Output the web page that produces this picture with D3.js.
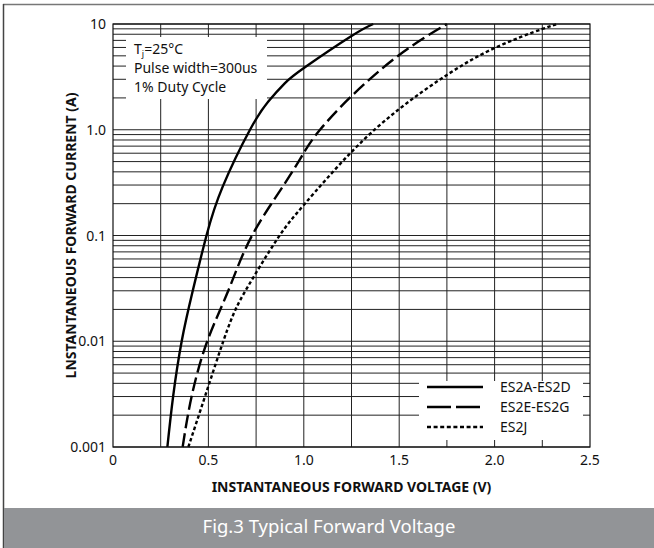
<!DOCTYPE html>
<html>
<head>
<meta http-equiv="Content-type" content="text/html; charset=utf-8">
<title>Fig.3 Typical Forward Voltage</title>
<script src="https://cdn.jsdelivr.net/npm/d3@7"></script>
<style>
  body { margin: 0; background: #fff; }
  svg text { font-family: "Noto Sans", "Open Sans", sans-serif; fill: #111; }
</style>
</head>
<body>
<script type="text/javascript">

// axis ticks
var xTicks = [0, 0.5, 1.0, 1.5, 2.0, 2.5];
var xTickLabels = ["0", "0.5", "1.0", "1.5", "2.0", "2.5"];
var xGrid = [0.25, 0.5, 0.75, 1.0, 1.25, 1.5, 1.75, 2.0, 2.25];
var yTicks = [10, 1, 0.1, 0.01, 0.001];
var yTickLabels = ["10", "1.0", "0.1", "0.01", "0.001"];

// curves (V, A)
var es2aV = [0.285, 0.315, 0.36, 0.418, 0.49, 0.575, 0.718, 0.814, 0.9, 1.006, 1.25, 1.364];
var es2aI = [0.001, 0.003, 0.01, 0.03, 0.1, 0.29, 1.0, 1.85, 2.75, 3.9, 7.7, 10];

var es2eV = [0.365, 0.412, 0.494, 0.604, 0.725, 0.90, 1.006, 1.085, 1.25, 1.5, 1.75];
var es2eI = [0.001, 0.003, 0.01, 0.03, 0.097, 0.31, 0.63, 1.0, 2.08, 5.1, 10];

var es2jV = [0.395, 0.482, 0.578, 0.648, 0.735, 0.87, 1.006, 1.25, 1.5, 1.75, 2.0, 2.25, 2.33];
var es2jI = [0.001, 0.003, 0.01, 0.021, 0.04, 0.098, 0.2, 0.617, 1.57, 3.3, 5.93, 8.97, 10];

var seriesNames = ["ES2A-ES2D", "ES2E-ES2G", "ES2J"];
var dashes = [null, "14,5", "3.5,2.5"];

var W = 654, H = 548;
var pL = 113, pR = 590, pT = 24, pB = 447;

var svg = d3.select("body").append("svg").attr("width", W).attr("height", H);

var x = d3.scaleLinear().domain([0, 2.5]).range([pL, pR]);
var y = d3.scaleLog().domain([0.001, 10]).range([pB, pT]);

// frame of the figure
svg.append("line").attr("x1", 3).attr("x2", W).attr("y1", 4.5).attr("y2", 4.5)
  .attr("stroke", "#777").attr("stroke-width", 1.5);
svg.append("line").attr("x1", 3.5).attr("x2", 3.5).attr("y1", 4).attr("y2", H)
  .attr("stroke", "#444").attr("stroke-width", 1.5);

// log minor grid
var yGrid = [];
[0.001, 0.01, 0.1, 1].forEach(function(d) {
  for (var k = 1; k <= 9; k++) yGrid.push(d * k);
});
yGrid.push(10);

var grid = svg.append("g");
grid.selectAll(".hg").data(yGrid).enter().append("line")
  .attr("x1", pL).attr("x2", pR)
  .attr("y1", function(d) { return y(d); }).attr("y2", function(d) { return y(d); })
  .attr("stroke", "#222").attr("stroke-width", 1);
grid.selectAll(".vg").data(xGrid).enter().append("line")
  .attr("x1", function(d) { return x(d); }).attr("x2", function(d) { return x(d); })
  .attr("y1", pT).attr("y2", pB)
  .attr("stroke", "#222").attr("stroke-width", 1);

// curves
var line = d3.line()
  .x(function(d) { return x(d[0]); })
  .y(function(d) { return y(d[1]); })
  .curve(d3.curveNatural);

var curves = [d3.zip(es2aV, es2aI), d3.zip(es2eV, es2eI), d3.zip(es2jV, es2jI)];
svg.selectAll(".curve").data(curves).enter().append("path")
  .attr("class", "curve")
  .attr("d", line)
  .attr("fill", "none")
  .attr("stroke", "#000")
  .attr("stroke-width", 2.4)
  .attr("stroke-dasharray", function(d, i) { return dashes[i]; });

// plot border
svg.append("rect").attr("x", pL).attr("y", pT)
  .attr("width", pR - pL).attr("height", pB - pT)
  .attr("fill", "none").attr("stroke", "#111").attr("stroke-width", 1.2);

// conditions box
svg.append("rect").attr("x", 126).attr("y", 37).attr("width", 141).attr("height", 62).attr("fill", "#fff");
var cond = svg.append("text").attr("x", 134).attr("y", 54).attr("font-size", 14);
cond.append("tspan").text("T");
cond.append("tspan").attr("font-size", 9).attr("dy", 3).text("j");
cond.append("tspan").attr("dy", -3).text("=25°C");
svg.append("text").attr("x", 134).attr("y", 73).attr("font-size", 14).text("Pulse width=300us");
svg.append("text").attr("x", 134).attr("y", 92).attr("font-size", 14).text("1% Duty Cycle");

// legend
svg.append("rect").attr("x", 419).attr("y", 381).attr("width", 164).attr("height", 59).attr("fill", "#fff");
var leg = svg.selectAll(".leg").data(seriesNames).enter().append("g")
  .attr("transform", function(d, i) { return "translate(427," + (387 + i * 20) + ")"; });
leg.append("line").attr("x1", 0).attr("x2", 56).attr("y1", 0).attr("y2", 0)
  .attr("stroke", "#000").attr("stroke-width", 2.4)
  .attr("stroke-dasharray", function(d, i) { return i == 1 ? "24,5" : (i == 2 ? "4,2.6" : null); });
leg.append("text").attr("x", 73).attr("y", 5).attr("font-size", 14).text(function(d) { return d; });

// tick labels
svg.selectAll(".yl").data(yTicks).enter().append("text")
  .attr("x", 106).attr("y", function(d) { return y(d) + 5; })
  .attr("text-anchor", "end").attr("font-size", 14)
  .text(function(d, i) { return yTickLabels[i]; });
svg.selectAll(".xl").data(xTicks).enter().append("text")
  .attr("x", function(d) { return x(d); }).attr("y", 465)
  .attr("text-anchor", "middle").attr("font-size", 14)
  .text(function(d, i) { return xTickLabels[i]; });

// axis titles
svg.append("text").attr("x", (pL + pR) / 2).attr("y", 492)
  .attr("text-anchor", "middle").attr("font-size", 14).attr("font-weight", "bold")
  .text("INSTANTANEOUS FORWARD VOLTAGE (V)");
svg.append("text").attr("transform", "translate(76," + ((pT + pB) / 2) + ") rotate(-90)")
  .attr("text-anchor", "middle").attr("font-size", 14).attr("font-weight", "bold")
  .text("LNSTANTANEOUS FORWARD CURRENT (A)");

// footer band
svg.append("rect").attr("x", 4).attr("y", 508).attr("width", W - 4).attr("height", H - 508)
  .attr("fill", "#929497");
svg.append("text").attr("x", 329).attr("y", 533).attr("text-anchor", "middle")
  .attr("font-size", 18.5).style("fill", "#fff")
  .text("Fig.3 Typical Forward Voltage");

</script>
</body>
</html>
